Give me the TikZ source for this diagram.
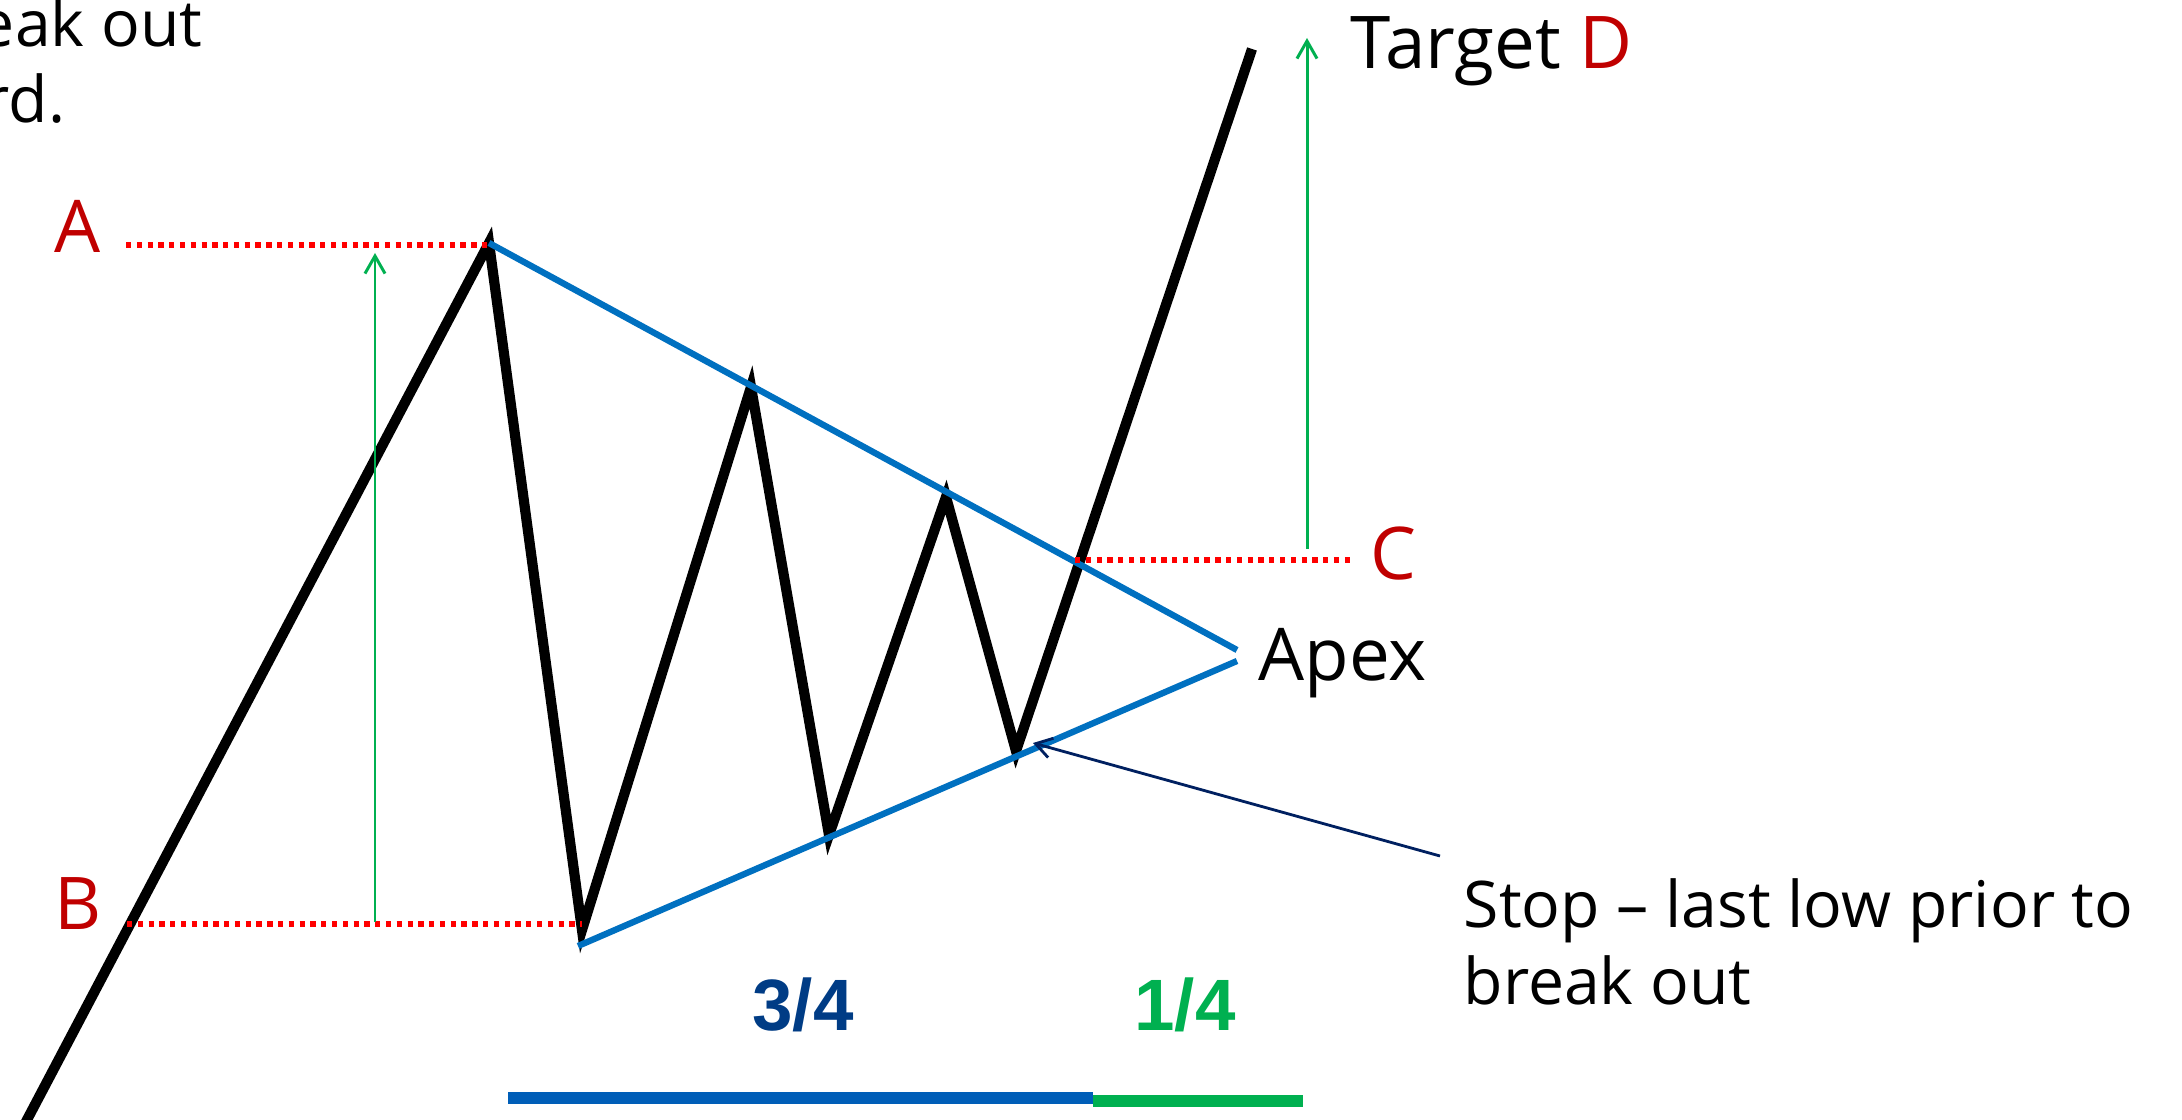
\documentclass[tikz,border=0pt]{standalone}
\usepackage{fontspec}
\setmainfont{Open Sans}
\newfontfamily\fracfont{Liberation Sans}
\usepackage{xcolor}
\usetikzlibrary{arrows.meta}
\definecolor{lblred}{HTML}{C00000}
\definecolor{dotred}{HTML}{FF0000}
\definecolor{trendblue}{HTML}{0070C0}
\definecolor{measgreen}{HTML}{00B050}
\definecolor{stopnavy}{HTML}{002060}
\definecolor{fracblue}{HTML}{003C85}
\definecolor{barblue}{HTML}{005EB8}

\begin{document}
\begin{tikzpicture}[x=0.1mm,y=-0.1mm,
  price/.style={line width=2.9pt,black},
  trend/.style={line width=1.8pt,trendblue},
  level/.style={line width=1.6pt,dotred,dash pattern=on 1.5pt off 1.57pt},
  measure/.style={line width=0.85pt,measgreen,-{Straight Barb[length=5pt,width=5.7pt]}},
  stoparrow/.style={line width=0.8pt,stopnavy,-{Straight Barb[length=4.5pt,width=5.7pt]}},
  biglbl/.style={font=\fontsize{20.7}{25}\selectfont,inner sep=0pt},
  smalllbl/.style={font=\fontsize{18.3}{22}\selectfont,inner sep=0pt},
  fraclbl/.style={font=\fracfont\bfseries\fontsize{20.7}{25}\selectfont,inner sep=0pt}]
  \useasboundingbox (0,0) rectangle (2182,1120);
  \clip (0,0) rectangle (2182,1120);
  % price swings
  \coordinate (p0) at (19,1135);
  \coordinate (pA) at (489,243);
  \coordinate (pL1) at (582,930);
  \coordinate (pH2) at (751,387);
  \coordinate (pL2) at (829,835);
  \coordinate (pH3) at (946,497);
  \coordinate (pL3) at (1016,751);
  \coordinate (pD) at (1252,49);
  \draw[price] (p0) -- (pA) -- (pL1) -- (pH2) -- (pL2) -- (pH3) -- (pL3) -- (pD);
  % triangle
  \coordinate (tl0) at (578,946);
  \coordinate (apexU) at (1237,650);
  \coordinate (apexL) at (1237,661);
  \draw[trend] (pA) -- (apexU);
  \draw[trend] (tl0) -- (apexL);
  % levels
  \foreach \l/\x/\y in {A/78/253,B/78/930,C/1393/580}
    \node[biglbl,text=lblred,anchor=base] (lbl\l) at (\x,\y) {\l};
  \coordinate (aL) at (126,245);
  \coordinate (aR) at (489,245);
  \coordinate (bL) at (127,924);
  \coordinate (bR) at (582,924);
  \coordinate (cL) at (1075,560);
  \coordinate (cR) at (1350,560);
  \draw[level] (aL) -- (aR);
  \draw[level] (bL) -- (bR);
  \draw[level] (cL) -- (cR);
  % height of pattern, projected
  \coordinate (mB) at (375,922);
  \coordinate (mA) at (375,253);
  \coordinate (mC) at (1307,549);
  \coordinate (mD) at (1307,38);
  \draw[measure] (mB) -- (mA);
  \draw[measure] (mC) -- (mD);
  \node[biglbl,anchor=base west] (target) at (1350,69) {Target \textcolor{lblred}{D}};
  \node[biglbl,anchor=base west] (apex) at (1258,681) {Apex};
  % stop
  \node[smalllbl,anchor=base west] (stop) at (1463,928) {Stop – last low prior to};
  \node[smalllbl,anchor=base west] (stopb) at (1463,1005) {break out};
  \coordinate (stoptail) at (1440,856);
  \coordinate (stoptip) at (1033,743);
  \draw[stoparrow] (stoptail) -- (stoptip);
  \node[smalllbl,anchor=base east] (note) at (203,47) {eak out};
  \node[smalllbl,anchor=base east] (noteb) at (66,123) {rd.};
  % time split
  \coordinate (bar0) at (508,1098);
  \coordinate (bar1) at (1093,1098);
  \coordinate (bar2) at (1303,1101);
  \draw[barblue,line width=3.4pt] (bar0) -- (bar1);
  \draw[measgreen,line width=3.4pt] (bar1 |- bar2) -- (bar2);
  \node[fraclbl,text=fracblue,anchor=base] (three) at (803,1031) {3/4};
  \node[fraclbl,text=measgreen,anchor=base] (one) at (1185,1031) {1/4};
\end{tikzpicture}
\end{document}
